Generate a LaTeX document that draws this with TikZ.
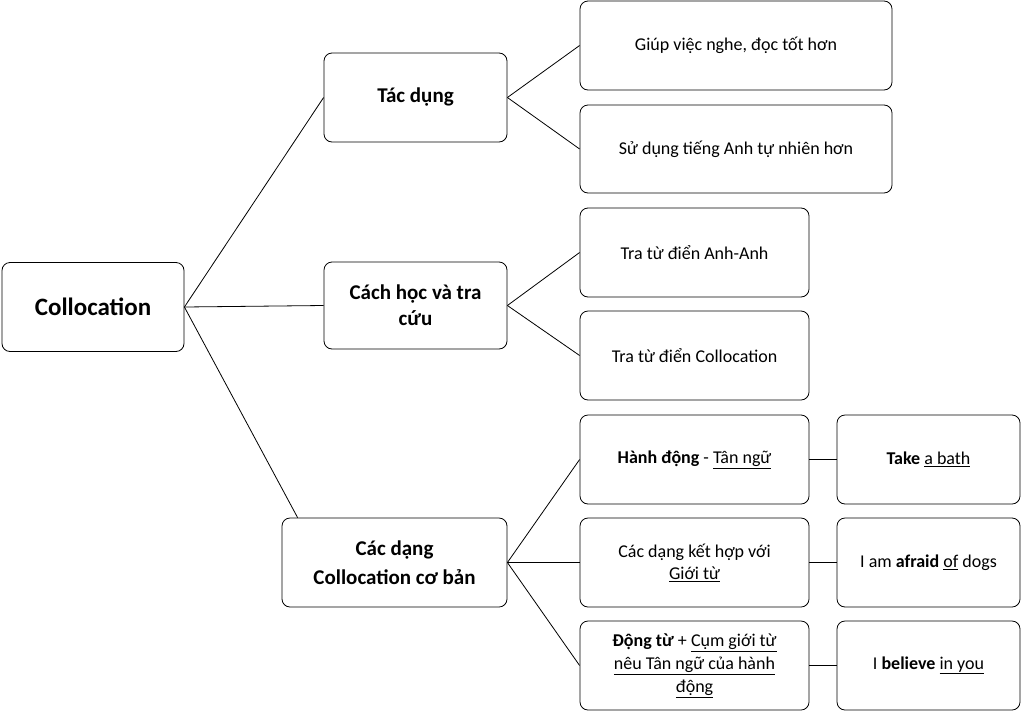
\documentclass[tikz,border=0pt]{standalone}
\usepackage{fontspec}
\setmainfont{Carlito}
\begin{document}
\begin{tikzpicture}[x=1pt,y=-1pt,
  box/.style={draw,thick,rounded corners=8pt,align=center,inner sep=2pt},
  ln/.style={thick}]
\useasboundingbox (0,0) rectangle (1024,715);
\node[box,minimum width=182pt,minimum height=89pt,font=\fontsize{25}{30}\selectfont\bfseries] (col) at (93,307) {Collocation};
\node[box,minimum width=183pt,minimum height=89pt,font=\fontsize{21}{26}\selectfont\bfseries] (tac) at (415.5,97.5) {Tác dụng};
\node[box,minimum width=183pt,minimum height=87pt,font=\fontsize{21}{26}\selectfont\bfseries] (cach) at (415.5,305.5) {Cách học và tra\\cứu};
\node[box,minimum width=225pt,minimum height=89pt,font=\fontsize{21}{29}\selectfont\bfseries] (cd) at (394.5,562.5) {Các dạng\\Collocation cơ bản};
\tikzset{leaf/.style={box,font=\fontsize{18}{22}\selectfont,minimum height=89pt}}
\node[leaf,minimum width=312pt] (g1) at (736,45.5) {Giúp việc nghe, đọc tốt hơn};
\node[leaf,minimum width=312pt,minimum height=88pt] (g2) at (736,149) {Sử dụng tiếng Anh tự nhiên hơn};
\node[leaf,minimum width=229pt] (t1) at (694.5,252.5) {Tra từ điển Anh-Anh};
\node[leaf,minimum width=229pt] (t2) at (694.5,355.5) {Tra từ điển Collocation};
\node[leaf,minimum width=229pt] (d1) at (694.5,459.5) {\textbf{Hành động} - \underline{Tân ngữ}};
\node[leaf,minimum width=229pt] (d2) at (694.5,562.5) {Các dạng kết hợp với\\\underline{Giới từ}};
\node[leaf,minimum width=229pt,font=\fontsize{18}{23}\selectfont] (d3) at (694.5,665.5) {\textbf{Động từ} + \underline{Cụm giới từ}\\\underline{nêu Tân ngữ của hành}\\\underline{động}};
\node[leaf,minimum width=183pt] (e1) at (928.5,459.5) {\textbf{Take} \underline{a bath}};
\node[leaf,minimum width=183pt] (e2) at (928.5,562.5) {I am \textbf{afraid} \underline{of} dogs};
\node[leaf,minimum width=183pt] (e3) at (928.5,665.5) {I \textbf{believe} \underline{in you}};
\draw[ln] (col.east) -- (tac.west);
\draw[ln] (col.east) -- (cach.west);
\draw[ln] (col.east) -- ([xshift=16pt]cd.north west);
\draw[ln] (tac.east) -- (g1.west);
\draw[ln] (tac.east) -- (g2.west);
\draw[ln] (cach.east) -- (t1.west);
\draw[ln] (cach.east) -- (t2.west);
\draw[ln] (cd.east) -- (d1.west);
\draw[ln] (cd.east) -- (d2.west);
\draw[ln] (cd.east) -- (d3.west);
\draw[ln] (d1.east) -- (e1.west);
\draw[ln] (d2.east) -- (e2.west);
\draw[ln] (d3.east) -- (e3.west);
\end{tikzpicture}
\end{document}
